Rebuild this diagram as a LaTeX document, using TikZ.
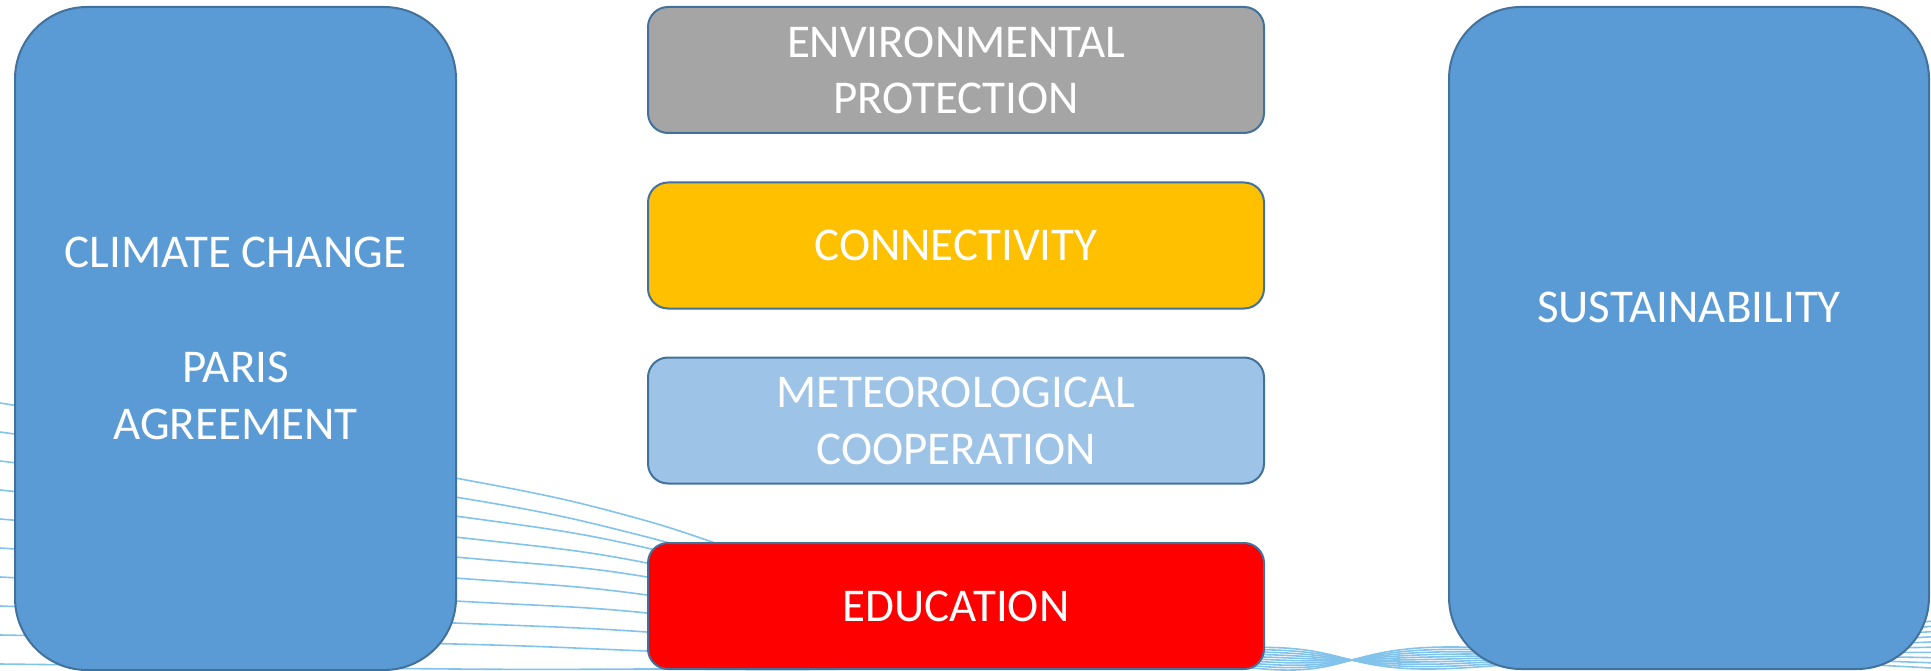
\documentclass[tikz,border=0pt]{standalone}
\usepackage{fontspec}
\setmainfont{Carlito}
\definecolor{boxblue}{HTML}{5B9BD5}
\definecolor{edgeblue}{HTML}{41719C}
\definecolor{lightblue}{HTML}{9DC3E6}
\definecolor{boxgray}{HTML}{A5A5A5}
\definecolor{boxgold}{HTML}{FFC000}
\definecolor{boxred}{HTML}{FF0000}
\definecolor{wavecol}{RGB}{130,195,235}
\tikzset{
  bigbox/.style={draw=edgeblue, line width=2pt, fill=boxblue, rounded corners=72pt,
    text=white, align=center, inner sep=0pt,
    font=\fontsize{47}{57.5}\selectfont},
  midbox/.style={draw=edgeblue, line width=2pt, rounded corners=20pt,
    minimum width=616pt, minimum height=126pt,
    text=white, align=center, inner sep=0pt,
    font=\fontsize{47}{56}\selectfont},
  wave/.style={draw=wavecol, line width=1.6pt},
  lbl/.style={text=white, align=center, inner sep=0pt, font=\fontsize{47}{57.5}\selectfont}
}
\begin{document}
\begin{tikzpicture}[x=1pt,y=-1pt]
\useasboundingbox (0,0) rectangle (1931,671);
\begin{scope}
\clip (0,0) rectangle (1931,671);
\foreach \i/\yb/\yc in {0/478/521,1/497/537,2/516/548,3/537/563,4/557/577,5/578/595,6/601/613,7/623/632,8/644/651,9/669/669}{
  \pgfmathsetmacro\ya{403+29*\i}
  \pgfmathsetmacro\yd{602+7.3*\i}
  \pgfmathsetmacro\ye{669-2.4*\i}
  \pgfmathsetmacro\yg{647+2.4*\i}
  \pgfmathsetmacro\yf{668-5.2*\i}
  \draw[wave] plot[smooth, tension=0.55] coordinates {(0,\ya) (455,\yb) (647,\yc) (900,\yd) (1264,\ye) (1449,\yg) (1931,\yf)};
}
\end{scope}
% left and right big boxes
\node[bigbox, minimum width=441pt, minimum height=663pt] (cc) at (235.5,338.5)
  {CLIMATE CHANGE\\[57.5pt]PARIS\\AGREEMENT};
\node[bigbox, minimum width=480pt, minimum height=662pt] (sus) at (1689,338) {};
\node[lbl] (sustext) at (1689,307.5) {SUSTAINABILITY};
% middle boxes
\node[midbox, fill=boxgray] (env) at (956,70) {ENVIRONMENTAL\\PROTECTION};
\node[midbox, fill=boxgold] (conn) at (956,245.5) {CONNECTIVITY};
\node[midbox, fill=lightblue, font=\fontsize{47}{57}\selectfont] (met) at (956,420.5) {METEOROLOGICAL\\COOPERATION};
\node[midbox, fill=boxred] (edu) at (956,606) {EDUCATION};
\end{tikzpicture}
\end{document}
